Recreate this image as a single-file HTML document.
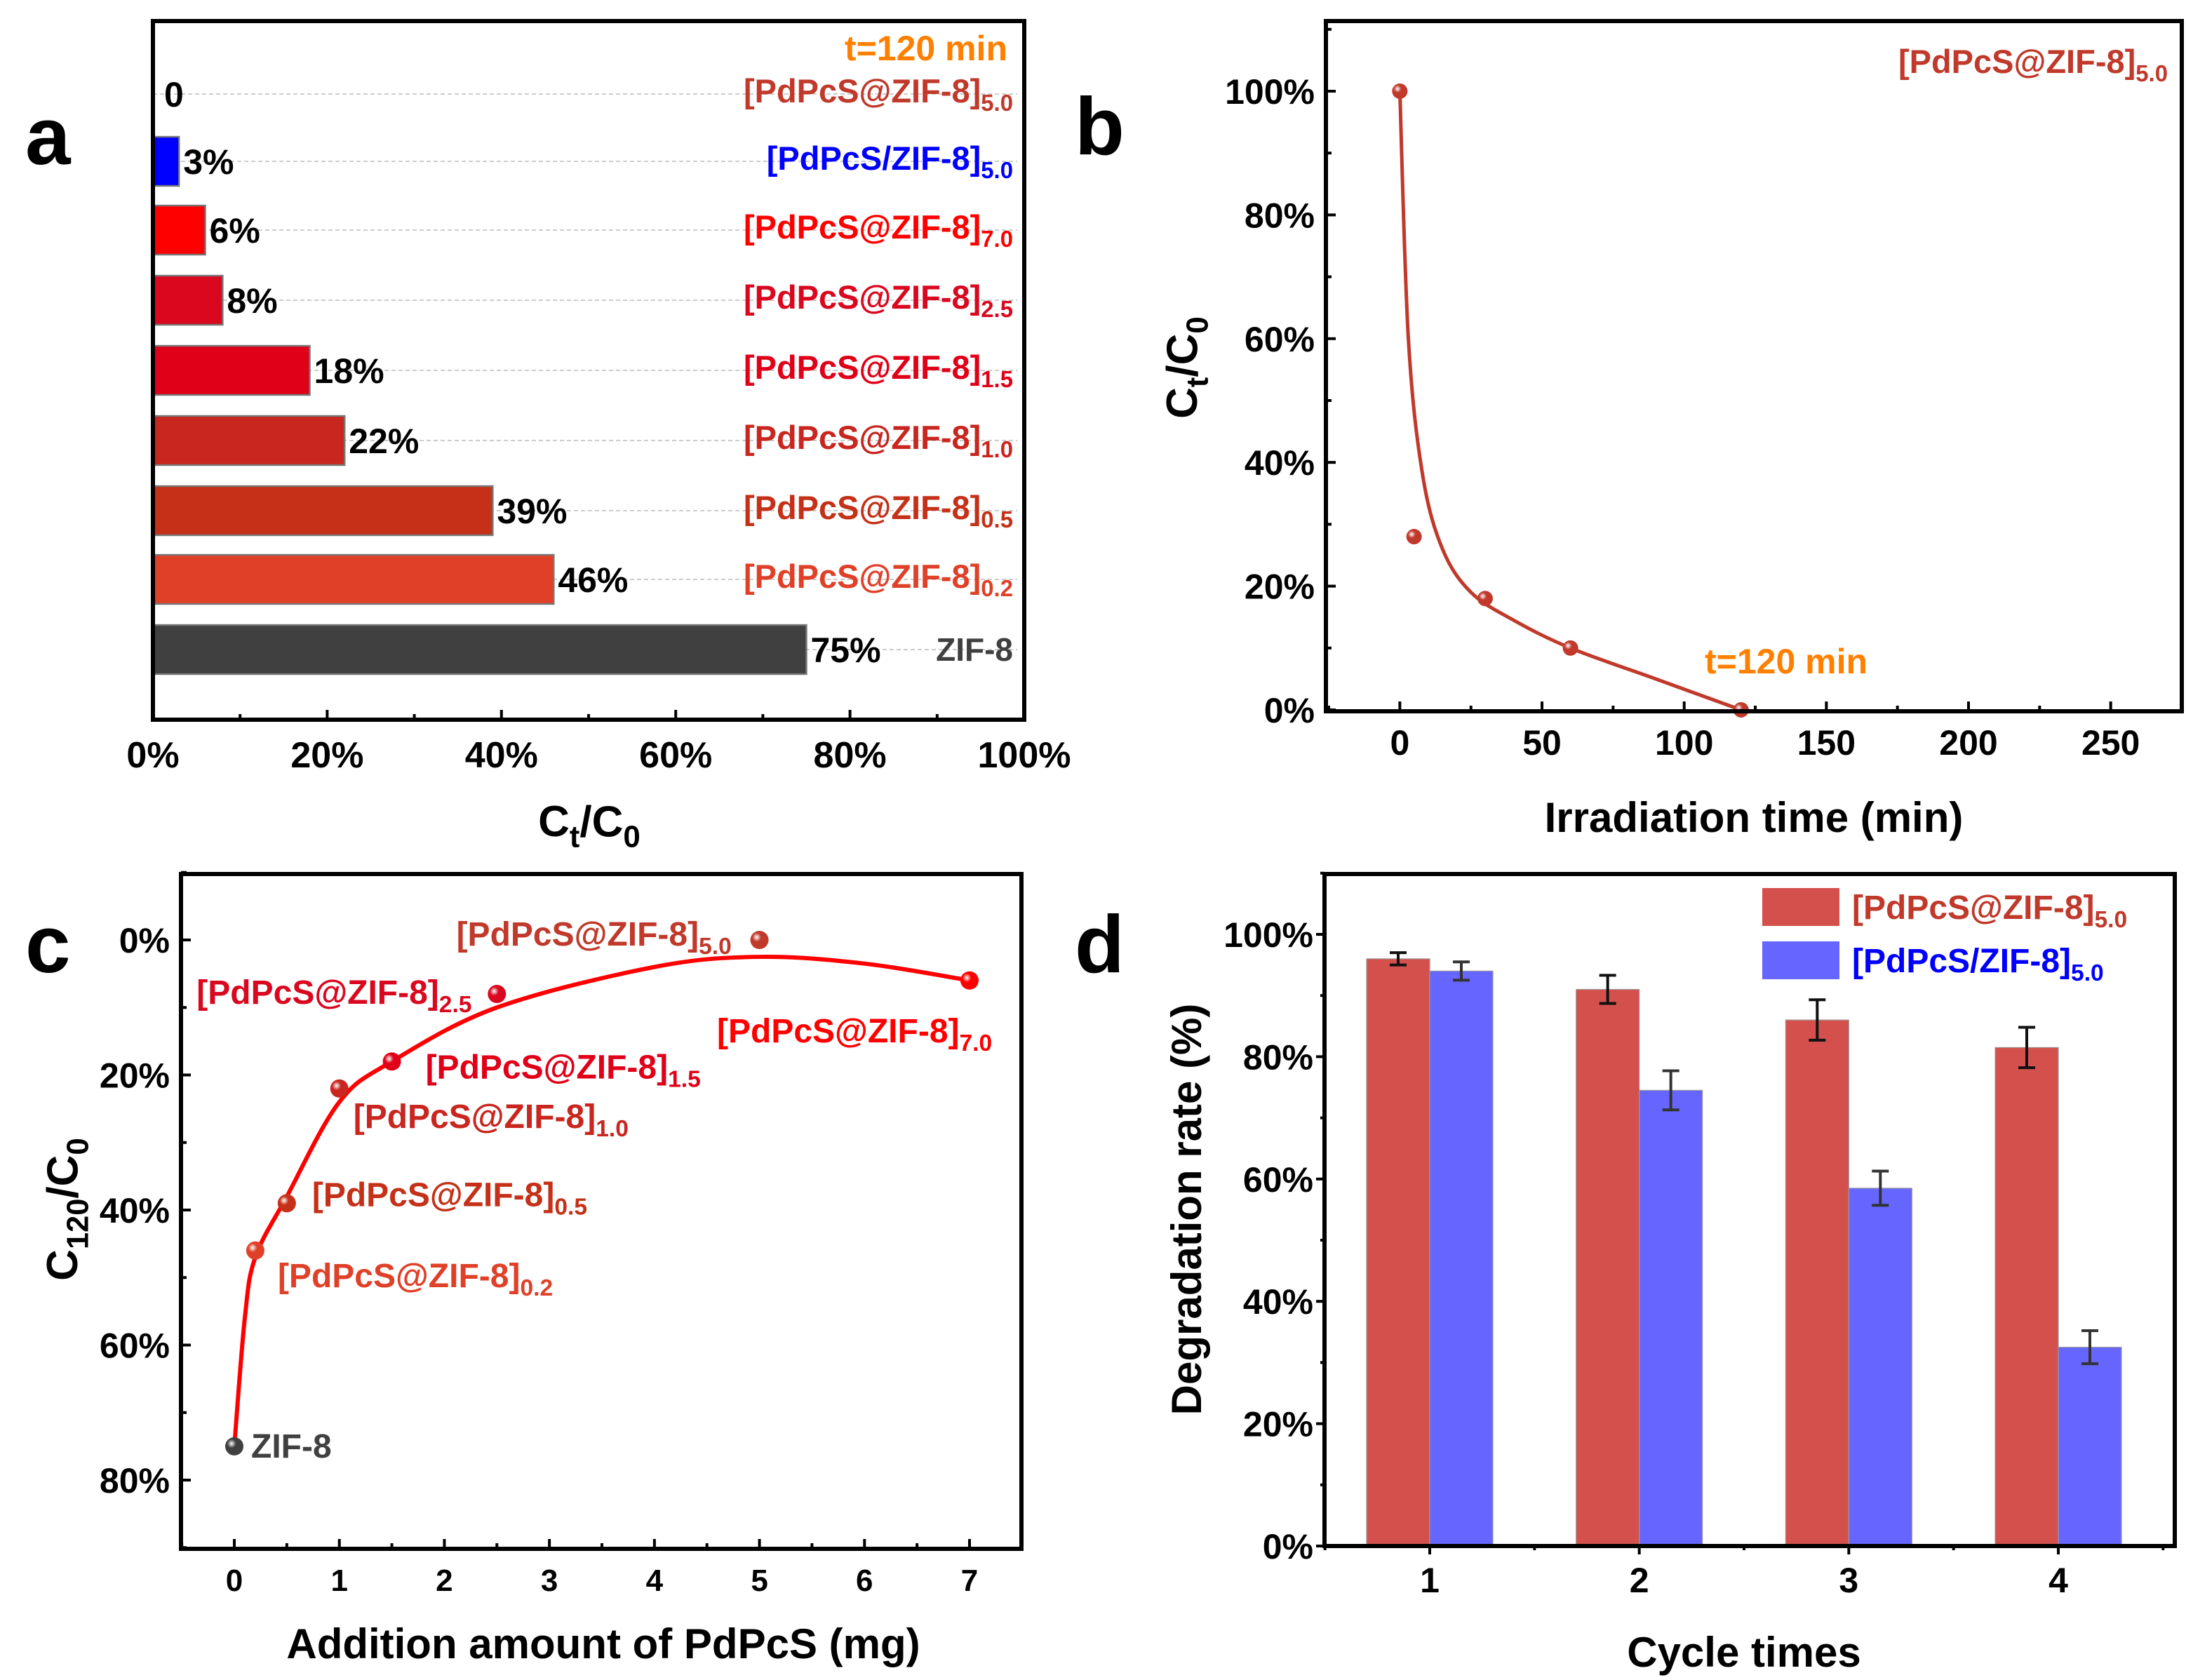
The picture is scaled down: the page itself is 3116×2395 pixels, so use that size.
<!DOCTYPE html>
<html><head><meta charset="utf-8"><style>
html,body{margin:0;padding:0;background:#fff;}
svg{display:block;font-family:"Liberation Sans",sans-serif;font-weight:bold;}
</style></head><body>
<svg id="fig" width="3116" height="2395" viewBox="0 0 1558 1197.5" xmlns="http://www.w3.org/2000/svg">
<rect x="0" y="0" width="1558" height="1197.5" fill="#fff"/>
<text x="18" y="117" font-size="58">a</text>
<text x="766" y="110" font-size="58">b</text>
<text x="18" y="693" font-size="58">c</text>
<text x="766" y="693" font-size="58">d</text>
<g id="pa"></g>
<g id="pb"></g>
<g id="pc"></g>
<g id="pd"></g>
</svg>
<script>
// ---------- data ----------
const aLabels = ["5.0","5.0","7.0","2.5","1.5","1.0","0.5","0.2","ZIF"];
const aValues = [0,3,6,8,18,22,39,46,75];
const aValueText = ["0","3%","6%","8%","18%","22%","39%","46%","75%"];
const aColors = ["#c0392b","#0000ff","#ff0000","#d9081f","#e00018","#c8261f","#c43118","#e04028","#404040"];
const aTicks = [0,20,40,60,80,100];

const bX = [0,5,30,60,120];
const bY = [100,28,18,10,0];
const bFitX = [0,3,8,15,25,40,60,90,120];
const bFitY = [100,60,38,26,19,14.5,10,5,0];
const bXTicks = [0,50,100,150,200,250];
const bYTicks = [0,20,40,60,80,100];

const cX = [0,0.2,0.5,1,1.5,2.5,5,7];
const cY = [75,46,39,22,18,8,0,6];
const cNames = ["ZIF-8","0.2","0.5","1.0","1.5","2.5","5.0","7.0"];
const cColors = ["#404040","#e04028","#c43118","#c8261f","#e00018","#d9081f","#c0392b","#ff0000"];
const cFitX = [0,0.1,0.2,0.5,1,1.5,2.5,4,5,6,7];
const cFitY = [75,56,47,38,24,18,10,4,2.5,3.5,6];
const cXTicks = [0,1,2,3,4,5,6,7];
const cYTicks = [0,20,40,60,80];

const dCats = [1,2,3,4];
const dRed = [96,91,86,81.5];
const dRedErr = [1,2.3,3.3,3.3];
const dBlue = [94,74.5,58.5,32.5];
const dBlueErr = [1.5,3.2,2.8,2.7];
const dYTicks = [0,20,40,60,80,100];

const NS="http://www.w3.org/2000/svg";
function mk(parent,tag,attrs,text){const e=document.createElementNS(NS,tag);for(const k in attrs)e.setAttribute(k,attrs[k]);if(text!==undefined)e.textContent=text;parent.appendChild(e);return e;}
function lin(d0,d1,r0,r1){return v=>r0+(v-d0)*(r1-r0)/(d1-d0);}
function spline(pts){let d="M"+pts[0][0]+","+pts[0][1];for(let i=0;i<pts.length-1;i++){const p0=pts[i-1]||pts[i],p1=pts[i],p2=pts[i+1],p3=pts[i+2]||p2;const c1=[p1[0]+(p2[0]-p0[0])/6,p1[1]+(p2[1]-p0[1])/6],c2=[p2[0]-(p3[0]-p1[0])/6,p2[1]-(p3[1]-p1[1])/6];d+=` C${c1[0]},${c1[1]} ${c2[0]},${c2[1]} ${p2[0]},${p2[1]}`;}return d;}
function sub(parent,x,y,main,subs,color,size,anchor,name){const t=mk(parent,"text",{x:x,y:y,"font-size":size,fill:color,"text-anchor":anchor||"start"});mk(t,"tspan",{},main);mk(t,"tspan",{"font-size":size*0.7,dy:size*0.25},subs);return t;}
function pdLabel(parent,x,y,s,color,size,anchor,name){return sub(parent,x,y,"[PdPcS@ZIF-8]",s,color,size,anchor,name);}
const defs=mk(document.getElementById('fig'),"defs",{});
function ballGrad(id,c){const g=mk(defs,"radialGradient",{id:id,cx:"0.35",cy:"0.35",r:"0.7"});mk(g,"stop",{offset:"0","stop-color":"#fff"});mk(g,"stop",{offset:"0.35","stop-color":c});mk(g,"stop",{offset:"1","stop-color":c});}

// ---------- panel a ----------
(function(){
const g=document.getElementById('pa');
const L=109,R=730,T=15,B=513;
const x=lin(0,100,L,R);
const ys=[67,115,164,214,264,314,364,413,463];
for(let i=0;i<aValues.length;i++){
  const l=mk(g,"line",{x1:L,x2:R-5,y1:ys[i],y2:ys[i],stroke:"#bbb","stroke-width":0.8,"stroke-dasharray":"3,2"});
  
}
for(let i=0;i<aValues.length;i++){
  if(aValues[i]>0){const r=mk(g,"rect",{x:L,y:ys[i]-17.5,width:x(aValues[i])-L,height:35,fill:aColors[i],stroke:"#777","stroke-width":1.2});
  }
  const t=mk(g,"text",{x:x(aValues[i])+(aValues[i]>0?3:8),y:ys[i]+9,"font-size":25,fill:"#000"},aValueText[i]);
  
  if(aLabels[i]==="ZIF"){const z=mk(g,"text",{x:722,y:ys[i]+8,"font-size":23,fill:"#404040","text-anchor":"end"},"ZIF-8");}
  else if(i===1){sub(g,722,ys[i]+6,"[PdPcS/ZIF-8]",aLabels[i],aColors[i],23.5,"end",'bar-label');}
  else{pdLabel(g,722,ys[i]+6,aLabels[i],aColors[i],23.5,"end",'bar-label');}
}
const tt=mk(g,"text",{x:718,y:43,"font-size":25,fill:"#ff8000","text-anchor":"end"},"t=120 min");
const fr=mk(g,"rect",{x:L,y:T,width:R-L,height:B-T,fill:"none",stroke:"#000","stroke-width":3});
for(let v=0;v<=100;v+=10){const l=mk(g,"line",{x1:x(v),x2:x(v),y1:B,y2:B-(v%20?4:7),stroke:"#000","stroke-width":2});}
aTicks.forEach(v=>{const t=mk(g,"text",{x:x(v),y:547,"font-size":26,"text-anchor":"middle"},v+"%");});
const xt=sub(g,420,596,"C","t",'#000',31,"middle",'x-axis-title');mk(xt,"tspan",{dy:-7.5},"/C");mk(xt,"tspan",{"font-size":22,dy:7.5},"0");
})();

// ---------- panel b ----------
(function(){
const g=document.getElementById('pb');
const L=945,R=1555,T=15,B=507;
const x=lin(-26,275,L,R), y=lin(0,100,506,65);
ballGrad('gb','#c0392b');
const fit=bFitX.map((v,i)=>[x(v),y(bFitY[i])]);
const p=mk(g,"path",{d:spline(fit),fill:"none",stroke:"#c0392b","stroke-width":2.5});
bX.forEach((v,i)=>{const c=mk(g,"circle",{cx:x(v),cy:y(bY[i]),r:5.5,fill:"url(#gb)"});});
const fr=mk(g,"rect",{x:L,y:T,width:R-L,height:B-T,fill:"none",stroke:"#000","stroke-width":3});
for(let v=-25;v<=275;v+=25){const l=mk(g,"line",{x1:x(v),x2:x(v),y1:B,y2:B-(v%50?4:7),stroke:"#000","stroke-width":2});}
for(let v=0;v<=110;v+=10){const l=mk(g,"line",{x1:L,x2:L+(v%20?4:7),y1:y(v),y2:y(v),stroke:"#000","stroke-width":2});}
bXTicks.forEach(v=>{const t=mk(g,"text",{x:x(v),y:538,"font-size":25,"text-anchor":"middle"},v);});
bYTicks.forEach(v=>{const t=mk(g,"text",{x:937,y:y(v)+9,"font-size":25,"text-anchor":"end"},v+"%");});
const xt=mk(g,"text",{x:1250,y:593,"font-size":30,"text-anchor":"middle"},"Irradiation time (min)");
const yt=sub(g,0,0,"C","t",'#000',31,"middle",'y-axis-title');mk(yt,"tspan",{dy:-7.5},"/C");mk(yt,"tspan",{"font-size":22,dy:7.5},"0");yt.setAttribute('transform','translate(853,262) rotate(-90)');
pdLabel(g,1545,52,"5.0","#c0392b",23.5,"end",'series-label');
const tt=mk(g,"text",{x:1215,y:480,"font-size":25,fill:"#ff8000"},"t=120 min");
})();

// ---------- panel c ----------
(function(){
const g=document.getElementById('pc');
const L=129,R=728,T=623,B=1104;
const x=lin(0,7,167,691), y=lin(0,80,670,1055);
const fit=cFitX.map((v,i)=>[x(v),y(cFitY[i])]);
const p=mk(g,"path",{d:spline(fit),fill:"none",stroke:"#ff0000","stroke-width":3});
const lp=[[12,0],[16,18],[18,-6],[10,20],[24,4],[-214,-1],[-216,-4],[-180,36]];
cX.forEach((v,i)=>{ballGrad('gc'+i,cColors[i]);const c=mk(g,"circle",{cx:x(v),cy:y(cY[i]),r:6.5,fill:"url(#gc"+i+")"});
  const lx=x(v)+lp[i][0], ly=y(cY[i])+lp[i][1]+8;
  if(i===0){const t=mk(g,"text",{x:lx,y:ly,"font-size":24,fill:cColors[i]},cNames[i]);}
  else pdLabel(g,lx,ly,cNames[i],cColors[i],24,"start",'point-label');
});
const fr=mk(g,"rect",{x:L,y:T,width:R-L,height:B-T,fill:"none",stroke:"#000","stroke-width":3});
for(let v=-0.5;v<=7.5;v+=0.5){const l=mk(g,"line",{x1:x(v),x2:x(v),y1:B,y2:B-(v%1?4:7),stroke:"#000","stroke-width":2});}
for(let v=-10;v<=90;v+=10){const l=mk(g,"line",{x1:L,x2:L+(v%20?4:7),y1:y(v),y2:y(v),stroke:"#000","stroke-width":2});}
cXTicks.forEach(v=>{const t=mk(g,"text",{x:x(v),y:1134,"font-size":22,"text-anchor":"middle"},v);});
cYTicks.forEach(v=>{const t=mk(g,"text",{x:121,y:y(v)+9,"font-size":25,"text-anchor":"end"},v+"%");});
const xt=mk(g,"text",{x:430,y:1182,"font-size":30,"text-anchor":"middle"},"Addition amount of PdPcS (mg)");
const yt=sub(g,0,0,"C","120",'#000',31,"middle",'y-axis-title');mk(yt,"tspan",{dy:-7.5},"/C");mk(yt,"tspan",{"font-size":22,dy:7.5},"0");yt.setAttribute('transform','translate(55,862) rotate(-90)');
})();

// ---------- panel d ----------
(function(){
const g=document.getElementById('pd');
const L=944,R=1550,T=623,B=1102;
const y=lin(0,100,1102,666), x=lin(1,4,1019,1467);
const bw=45;
dCats.forEach((c,i)=>{
  const r=mk(g,"rect",{x:x(c)-bw,y:y(dRed[i]),width:bw,height:B-y(dRed[i]),fill:"#d4504c",stroke:"#999","stroke-width":0.6});
  const b=mk(g,"rect",{x:x(c),y:y(dBlue[i]),width:bw,height:B-y(dBlue[i]),fill:"#6666ff",stroke:"#999","stroke-width":0.6});
  [[x(c)-bw/2,dRed[i],dRedErr[i],"#111"],[x(c)+bw/2,dBlue[i],dBlueErr[i],"#333"]].forEach(e=>{
    const eg=mk(g,"g",{stroke:e[3],"stroke-width":2});
    mk(eg,"line",{x1:e[0],x2:e[0],y1:y(e[1]+e[2]),y2:y(e[1]-e[2])});
    mk(eg,"line",{x1:e[0]-6,x2:e[0]+6,y1:y(e[1]+e[2]),y2:y(e[1]+e[2])});
    mk(eg,"line",{x1:e[0]-6,x2:e[0]+6,y1:y(e[1]-e[2]),y2:y(e[1]-e[2])});
  });
});
const fr=mk(g,"rect",{x:L,y:T,width:R-L,height:B-T,fill:"none",stroke:"#000","stroke-width":3});
for(let v=0.5;v<=4.5;v+=0.5){const l=mk(g,"line",{x1:x(v),x2:x(v),y1:B,y2:B+(v%1?3:6),stroke:"#000","stroke-width":2});}
for(let v=0;v<=110;v+=10){const l=mk(g,"line",{x1:L,x2:L-(v%20?3:6),y1:y(v),y2:y(v),stroke:"#000","stroke-width":2});}
dCats.forEach(c=>{const t=mk(g,"text",{x:x(c),y:1135,"font-size":25,"text-anchor":"middle"},c);});
dYTicks.forEach(v=>{const t=mk(g,"text",{x:936,y:y(v)+9,"font-size":25,"text-anchor":"end"},v+"%");});
const xt=mk(g,"text",{x:1243,y:1188,"font-size":30,"text-anchor":"middle"},"Cycle times");
const yt=mk(g,"text",{"font-size":30,"text-anchor":"middle",transform:"translate(856,862) rotate(-90)"},"Degradation rate (%)");
const l1=mk(g,"rect",{x:1256,y:633,width:55,height:27,fill:"#d4504c"});
const l2=mk(g,"rect",{x:1256,y:671,width:55,height:27,fill:"#6666ff"});
pdLabel(g,1320,655,"5.0","#c0392b",24,"start",'legend-entry');
sub(g,1320,693,"[PdPcS/ZIF-8]","5.0","#0000ff",24,"start",'legend-entry');
})();
</script>
</body></html>
